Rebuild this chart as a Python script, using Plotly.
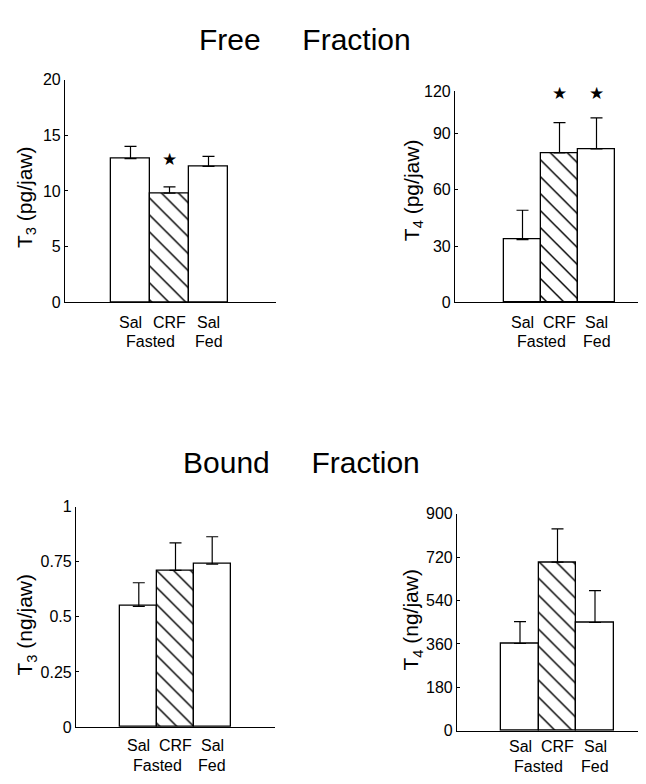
import plotly.graph_objects as go

# ---------------- data ----------------
groups = ["Sal", "CRF", "Sal"]
group_sub = ["Fasted", "Fed"]

free_t3 = [12.9, 9.8, 12.2]
free_t3_err = [1.1, 0.56, 0.9]

free_t4 = [33.4, 79.7, 81.8]
free_t4_err = [15.7, 16.1, 16.6]

bound_t3 = [0.548, 0.711, 0.74]
bound_t3_err = [0.107, 0.125, 0.124]

bound_t4 = [362, 699, 449]
bound_t4_err = [91, 138, 132]

free_t3_ticks = [0, 5, 10, 15, 20]
free_t4_ticks = [0, 30, 60, 90, 112.5]
free_t4_ticklabels = ["0", "30", "60", "90", "120"]
bound_t3_ticks = [0, 0.25, 0.5, 0.75, 1]
bound_t3_ticklabels = ["0", "0.25", "0.5", "0.75", "1"]
bound_t4_ticks = [0, 180, 360, 540, 720, 900]

# ---------------- layout helpers ----------------
W, H = 646, 784


def px(x):
    return x / W


def py(y):
    return 1 - y / H


TICKFONT = dict(family="Liberation Sans, Arial, sans-serif", size=16, color="black")
CATFONT = dict(family="Liberation Sans, Arial, sans-serif", size=16, color="black")
TITLEFONT = dict(family="Liberation Sans, Arial, sans-serif", size=30, color="black")
YTFONT = dict(family="Liberation Sans, Arial, sans-serif", size=21, color="black")

panels = [
    dict(vals=free_t3, err=free_t3_err, ax0=57, ax1=268, c0=122.5, bw=39, y0=292.7, ytop=65,
         yr=[0, 20], tv=free_t3_ticks, tt=[str(v) for v in free_t3_ticks],
         ytitle="T<sub>3</sub> (pg/jaw)", ytx=18, yty=185, lab1=313, lab2=333,
         stars=[(1, 146)]),
    dict(vals=free_t4, err=free_t4_err, ax0=447, ax1=642, c0=514.5, bw=37, y0=292.7, ytop=77,
         yr=[0, 112.5], tv=free_t4_ticks, tt=free_t4_ticklabels,
         ytitle="T<sub>4</sub> (pg/jaw)", ytx=405, yty=178, lab1=313, lab2=333,
         stars=[(1, 79), (2, 79)]),
    dict(vals=bound_t3, err=bound_t3_err, ax0=68, ax1=267, c0=130.8, bw=36.7, y0=726.7, ytop=501.7,
         yr=[0, 1], tv=bound_t3_ticks, tt=bound_t3_ticklabels,
         ytitle="T<sub>3</sub> (ng/jaw)", ytx=18, yty=622, lab1=746, lab2=766,
         stars=[]),
    dict(vals=bound_t4, err=bound_t4_err, ax0=449, ax1=642, c0=512, bw=37.5, y0=730.7, ytop=508.7,
         yr=[0, 900], tv=bound_t4_ticks, tt=[str(v) for v in bound_t4_ticks],
         ytitle="T<sub>4</sub> (ng/jaw)", ytx=404, yty=617, lab1=747, lab2=767,
         stars=[]),
]

fig = go.Figure()
annotations = []

for i, p in enumerate(panels):
    k = "" if i == 0 else str(i + 1)
    xa, ya = "x" + k, "y" + k
    xpos = [0, 1, 2]
    fig.add_trace(go.Bar(
        x=xpos, y=p["vals"], width=1,
        xaxis=xa, yaxis=ya,
        marker=dict(
            color="white",
            line=dict(color="black", width=1.3),
            pattern=dict(shape=["", "\\", ""], fgcolor="black", bgcolor="white",
                         fgopacity=1, size=12, solidity=0.12),
        ),
        error_y=dict(type="data", symmetric=False, array=p["err"], arrayminus=[0, 0, 0],
                     color="black", thickness=1.2, width=6),
        showlegend=False,
    ))
    xr = [(p["ax0"] - p["c0"]) / p["bw"], (p["ax1"] - p["c0"]) / p["bw"]]
    fig.update_layout(**{
        "xaxis" + k: dict(domain=[px(p["ax0"]), px(p["ax1"])], range=xr, showticklabels=False,
                          ticks="", showgrid=False, zeroline=False, showline=True,
                          linecolor="black", linewidth=1.2, anchor=ya, fixedrange=True),
        "yaxis" + k: dict(domain=[py(p["y0"]), py(p["ytop"])], range=p["yr"], tickvals=p["tv"],
                          ticktext=p["tt"], ticks="inside", ticklen=3, tickcolor="black",
                          showgrid=False, zeroline=False, showline=True, linecolor="black",
                          linewidth=1.2, tickfont=TICKFONT, anchor=xa, fixedrange=True),
    })
    # category labels
    for j, g in enumerate(groups):
        annotations.append(dict(x=j, y=py(p["lab1"]), xref=xa, yref="paper", text=g,
                                showarrow=False, font=CATFONT, xanchor="center", yanchor="middle"))
    annotations.append(dict(x=0.5, y=py(p["lab2"]), xref=xa, yref="paper", text=group_sub[0],
                            showarrow=False, font=CATFONT, xanchor="center", yanchor="middle"))
    annotations.append(dict(x=2, y=py(p["lab2"]), xref=xa, yref="paper", text=group_sub[1],
                            showarrow=False, font=CATFONT, xanchor="center", yanchor="middle"))
    # y title
    annotations.append(dict(x=px(p["ytx"]), y=py(p["yty"]), xref="paper", yref="paper",
                            text=p["ytitle"], textangle=-90, showarrow=False, font=YTFONT,
                            xanchor="center", yanchor="middle"))
    # significance stars
    for (sx, sy) in p["stars"]:
        annotations.append(dict(x=sx, y=py(sy), xref=xa, yref="paper", text="★",
                                showarrow=False, font=dict(family="DejaVu Sans", size=17, color="black"),
                                xanchor="center", yanchor="middle"))

nb = "\u00a0"
annotations.append(dict(x=px(297), y=py(24), xref="paper", yref="paper",
                        text="Free" + nb * 5 + "Fraction", showarrow=False, font=TITLEFONT,
                        xanchor="center", yanchor="middle"))
annotations.append(dict(x=px(293), y=py(456), xref="paper", yref="paper",
                        text="Bound" + nb * 5 + "Fraction", showarrow=False, font=TITLEFONT,
                        xanchor="center", yanchor="middle"))

fig.update_layout(
    width=W, height=H, margin=dict(l=0, r=0, t=0, b=0),
    paper_bgcolor="white", plot_bgcolor="white",
    annotations=annotations, bargap=0,
)

fig.write_html("out.html")
